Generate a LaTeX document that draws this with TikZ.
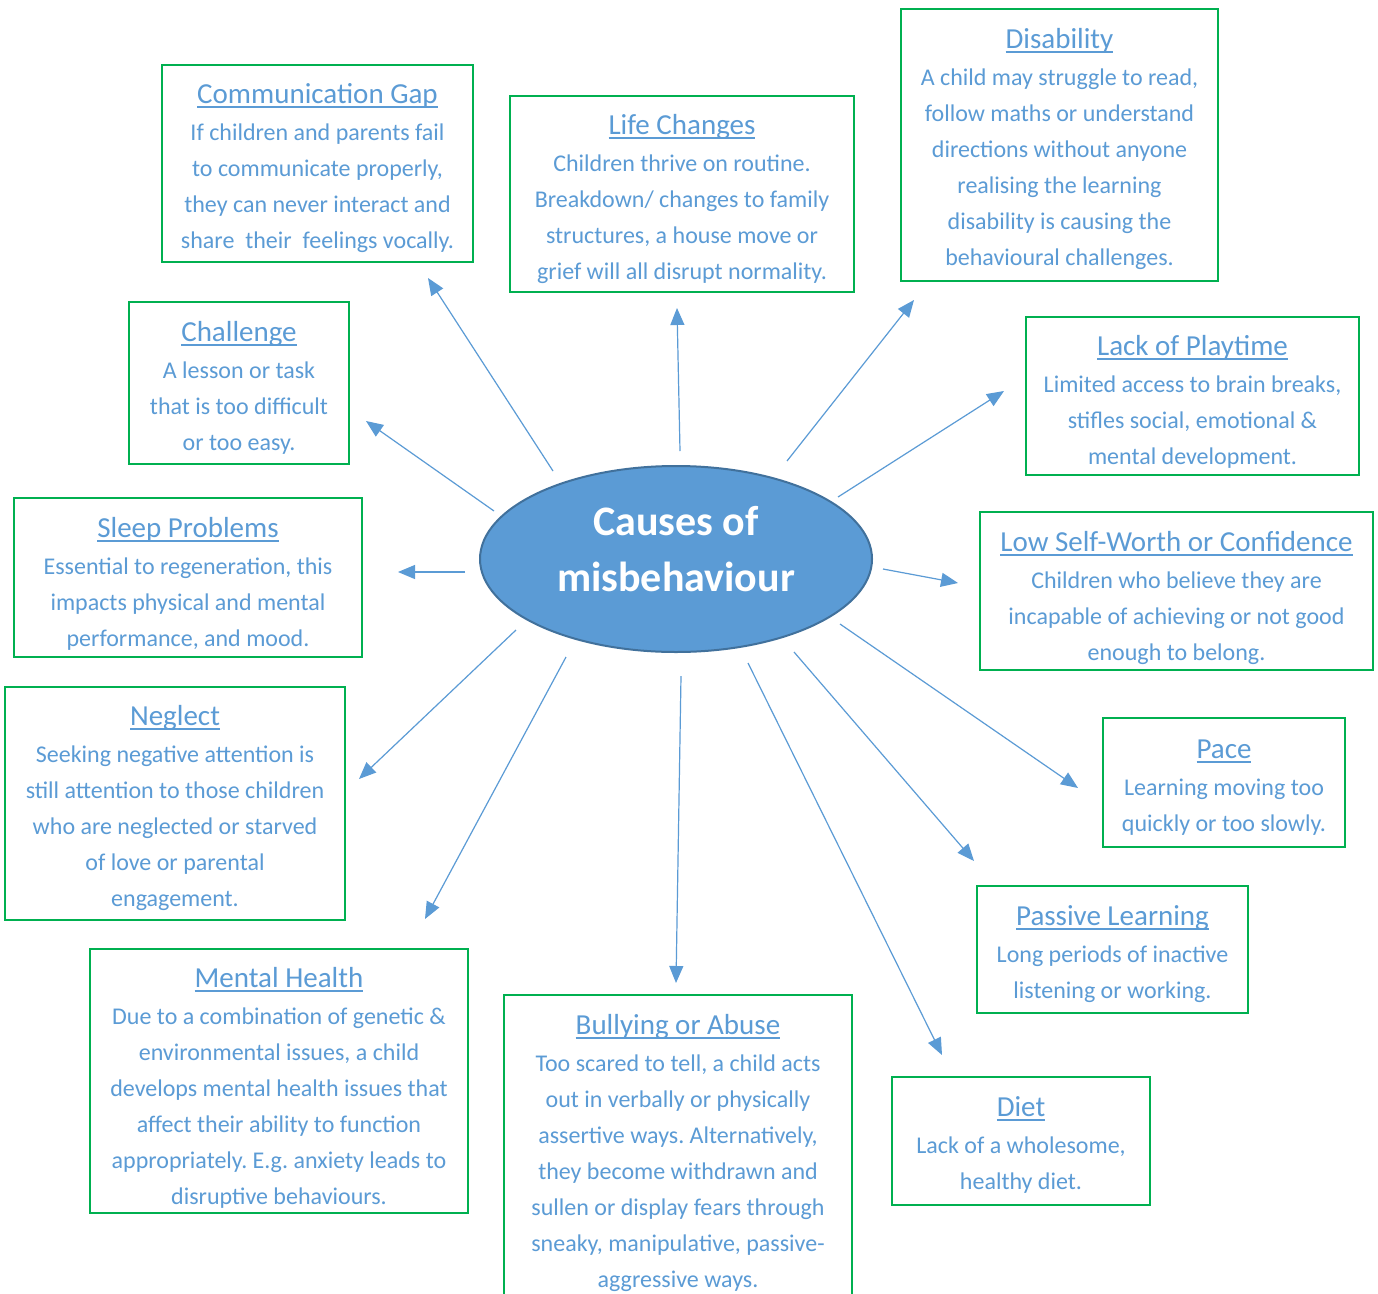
\documentclass[tikz,border=0pt]{standalone}
\usepackage{fontspec}
\setmainfont{Carlito}
\usetikzlibrary{arrows.meta,shapes.geometric}
\definecolor{txtblue}{HTML}{5B9BD5}
\definecolor{boxgreen}{HTML}{00B050}
\definecolor{ellborder}{HTML}{41719C}
\frenchspacing
\newsavebox\ttlbox
\newcommand\myul[1]{\sbox\ttlbox{#1}\rlap{\usebox\ttlbox}\rule[-4.5pt]{\wd\ttlbox}{1.6pt}}
\newcommand\ttl[1]{{\fontsize{29}{36}\selectfont\rule{0pt}{22pt}\myul{#1}}\\[1pt]}
\begin{document}
\begin{tikzpicture}[x=1pt,y=-1pt,
  gbox/.style={draw=boxgreen, line width=2.5pt, rectangle, inner sep=0pt, fill=white},
  btext/.style={text=txtblue, align=center, inner sep=0pt, anchor=north, font=\fontsize{24}{36}\selectfont},
  arr/.style={draw=txtblue, line width=1.2pt, -{Triangle[length=17pt,width=14pt]}},
  hub/.style={ellipse, draw=ellborder, line width=2pt, fill=txtblue, inner sep=0pt}]
\useasboundingbox (0,0) rectangle (1378,1293);
\clip (0,0) rectangle (1378,1293);
\fill[white] (0,0) rectangle (1378,1293);

% centre
\node[hub, minimum width=392pt, minimum height=186pt] (hub) at (676,559) {};
\node[text=white, align=center, inner sep=0pt, font=\fontsize{42}{56}\selectfont\bfseries] (hubT) at (676,549) {Causes of\\misbehaviour};

% boxes
\node[gbox, minimum width=311pt, minimum height=197pt] (comm) at (317.5,163.5) {};
\node[btext] (commT) at (317.5,81) {\ttl{Communication Gap}If children and parents fail\\to communicate properly,\\they can never interact and\\share\ \ their\ \ feelings vocally.};

\node[gbox, minimum width=344pt, minimum height=196pt] (life) at (682,194) {};
\node[btext] (lifeT) at (682,112) {\ttl{Life Changes}Children thrive on routine.\\Breakdown/ changes to family\\structures, a house move or\\grief will all disrupt normality.};

\node[gbox, minimum width=317pt, minimum height=272pt] (dis) at (1059.5,145) {};
\node[btext] (disT) at (1059.5,26) {\ttl{Disability}A child may struggle to read,\\follow maths or understand\\directions without anyone\\realising the learning\\disability is causing the\\behavioural challenges.};

\node[gbox, minimum width=220pt, minimum height=162pt] (chal) at (239,383) {};
\node[btext] (chalT) at (239,319) {\ttl{Challenge}A lesson or task\\that is too difficult\\or too easy.};

\node[gbox, minimum width=333pt, minimum height=158pt] (play) at (1192.5,396) {};
\node[btext] (playT) at (1192.5,333) {\ttl{Lack of Playtime}Limited access to brain breaks,\\stifles social, emotional \&\\mental development.};

\node[gbox, minimum width=348pt, minimum height=159pt] (sleep) at (188,577.5) {};
\node[btext] (sleepT) at (188,515) {\ttl{Sleep Problems}Essential to regeneration, this\\impacts physical and mental\\performance, and mood.};

\node[gbox, minimum width=393pt, minimum height=158pt] (low) at (1176.5,591) {};
\node[btext] (lowT) at (1176.5,529) {\ttl{Low Self-Worth or Confidence}Children who believe they are\\incapable of achieving or not good\\enough to belong.};

\node[gbox, minimum width=340pt, minimum height=233pt] (neg) at (175,803.5) {};
\node[btext] (negT) at (175,703) {\ttl{Neglect}Seeking negative attention is\\still attention to those children\\who are neglected or starved\\of love or parental\\engagement.};

\node[gbox, minimum width=242pt, minimum height=129pt] (pace) at (1224,782.5) {};
\node[btext] (paceT) at (1224,736) {\ttl{Pace}Learning moving too\\quickly or too slowly.};

\node[gbox, minimum width=271pt, minimum height=127pt] (pass) at (1112.5,949.5) {};
\node[btext] (passT) at (1112.5,903) {\ttl{Passive Learning}Long periods of inactive\\listening or working.};

\node[gbox, minimum width=378pt, minimum height=264pt] (ment) at (279,1081) {};
\node[btext] (mentT) at (279,965) {\ttl{Mental Health}Due to a combination of genetic \&\\environmental issues, a child\\develops mental health issues that\\affect their ability to function\\appropriately. E.g. anxiety leads to\\disruptive behaviours.};

\node[gbox, minimum width=348pt, minimum height=310pt] (bully) at (678,1150) {};
\node[btext] (bullyT) at (678,1012) {\ttl{Bullying or Abuse}Too scared to tell, a child acts\\out in verbally or physically\\assertive ways. Alternatively,\\they become withdrawn and\\sullen or display fears through\\sneaky, manipulative, passive-\\aggressive ways.};

\node[gbox, minimum width=258pt, minimum height=128pt] (diet) at (1021,1141) {};
\node[btext] (dietT) at (1021,1094) {\ttl{Diet}Lack of a wholesome,\\healthy diet.};

% arrow end points
\coordinate (sComm) at (553,471);  \coordinate (eComm) at (428,278);
\coordinate (sLife) at (680,451);  \coordinate (eLife) at (677,308);
\coordinate (sDis) at (787,461);   \coordinate (eDis) at (914,300);
\coordinate (sPlay) at (838,497);  \coordinate (ePlay) at (1004,391);
\coordinate (sChal) at (494,511);  \coordinate (eChal) at (366,421);
\coordinate (sSleep) at (465,572); \coordinate (eSleep) at (398,572);
\coordinate (sLow) at (883,569);   \coordinate (eLow) at (958,583);
\coordinate (sNeg) at (516,630);   \coordinate (eNeg) at (359,779);
\coordinate (sMent) at (566,657);  \coordinate (eMent) at (425,919);
\coordinate (sBully) at (681,676); \coordinate (eBully) at (676,983);
\coordinate (sDiet) at (748,663);  \coordinate (eDiet) at (942,1055);
\coordinate (sPass) at (794,652);  \coordinate (ePass) at (974,861);
\coordinate (sPace) at (840,624);  \coordinate (ePace) at (1078,788);

\foreach \n in {Comm,Life,Dis,Play,Chal,Sleep,Low,Neg,Ment,Bully,Diet,Pass,Pace}
  \draw[arr] (s\n) -- (e\n);
\end{tikzpicture}
\end{document}
